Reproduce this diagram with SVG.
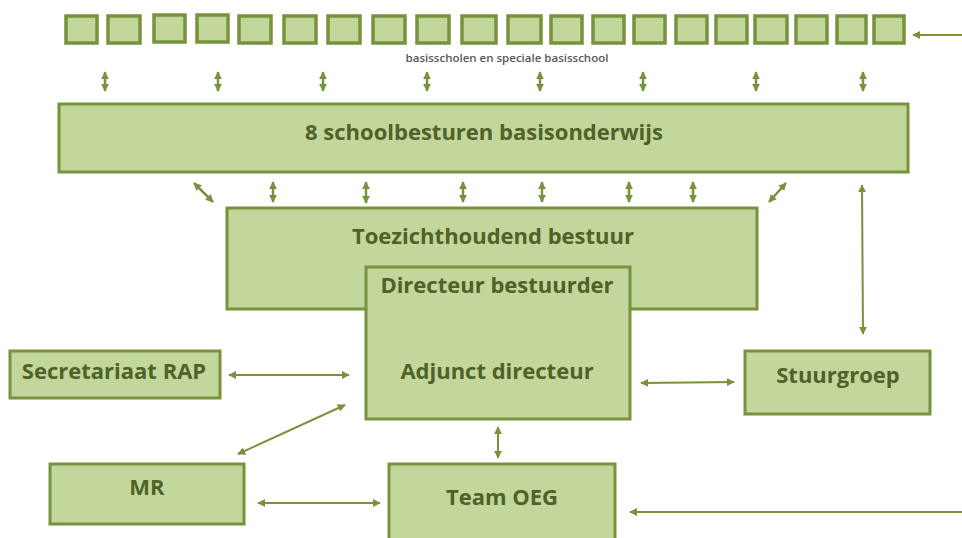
<svg xmlns="http://www.w3.org/2000/svg" width="962" height="538" viewBox="0 0 962 538">
<defs>
<style>
.box{fill:#c3d69b;stroke:#77933c;stroke-width:3}
.sq{fill:#c3d69b;stroke:#77933c;stroke-width:3.5}
.t{font-family:"Open Sans","Liberation Sans",sans-serif;font-weight:bold;font-size:22px;fill:#4f6228;text-anchor:middle}
.small{font-family:"Open Sans","Liberation Sans",sans-serif;font-size:11.5px;font-weight:600;fill:#595959;text-anchor:middle}
.c{stroke:#77933c;stroke-width:2;fill:none}
.s{stroke:#77933c;stroke-width:2.5;fill:none}
</style>
<marker id="ah" viewBox="0 0 10 10" refX="9" refY="5" markerWidth="8" markerHeight="8" markerUnits="userSpaceOnUse" orient="auto-start-reverse">
<path d="M0,0 L10,5 L0,10 Z" fill="#77933c"/>
</marker>
<marker id="ahs" viewBox="0 0 10 10" refX="9" refY="5" markerWidth="8" markerHeight="8" markerUnits="userSpaceOnUse" orient="auto-start-reverse">
<path d="M0,0 L10,5 L0,10 Z" fill="#77933c"/>
</marker>
</defs>
<rect width="962" height="538" fill="#ffffff"/>

<g id="basisscholen">
<rect class="sq" x="66" y="16" width="31" height="27"/>
<rect class="sq" x="108" y="16" width="32" height="27"/>
<rect class="sq" x="154" y="15" width="31" height="27"/>
<rect class="sq" x="197" y="15" width="31" height="27"/>
<rect class="sq" x="239" y="16" width="32" height="27"/>
<rect class="sq" x="284" y="16" width="32" height="27"/>
<rect class="sq" x="328" y="16" width="32" height="27"/>
<rect class="sq" x="373" y="16" width="32" height="27"/>
<rect class="sq" x="417" y="16" width="32" height="27"/>
<rect class="sq" x="462" y="16" width="34" height="27"/>
<rect class="sq" x="508" y="16" width="33" height="27"/>
<rect class="sq" x="551" y="16" width="31" height="27"/>
<rect class="sq" x="593" y="16" width="31" height="27"/>
<rect class="sq" x="634" y="16" width="31" height="27"/>
<rect class="sq" x="676" y="16" width="31" height="27"/>
<rect class="sq" x="716" y="16" width="31" height="27"/>
<rect class="sq" x="755" y="16" width="32" height="27"/>
<rect class="sq" x="796" y="16" width="31" height="27"/>
<rect class="sq" x="837" y="16" width="29" height="27"/>
<rect class="sq" x="874" y="16" width="30" height="27"/>
<text class="small" x="507" y="62">basisscholen en speciale basisschool</text>
</g>

<g id="schoolbesturen">
<rect class="box" x="59" y="104" width="849" height="68"/>
<text class="t" x="484" y="140">8 schoolbesturen basisonderwijs</text>
</g>

<g id="toezichthoudend">
<rect class="box" x="227" y="208" width="530" height="101"/>
<text class="t" x="493" y="244">Toezichthoudend bestuur</text>
</g>

<g id="directeur">
<rect class="box" x="366" y="267" width="264" height="152"/>
<text class="t" x="497" y="293">Directeur bestuurder</text>
<text class="t" x="497" y="379">Adjunct directeur</text>
</g>

<g id="secretariaat">
<rect class="box" x="10" y="351" width="210" height="47"/>
<text class="t" x="114" y="379">Secretariaat RAP</text>
</g>

<g id="stuurgroep">
<rect class="box" x="745" y="351" width="185" height="63"/>
<text class="t" x="838" y="383">Stuurgroep</text>
</g>

<g id="mr">
<rect class="box" x="50" y="464" width="194" height="60"/>
<text class="t" x="147" y="495">MR</text>
</g>

<g id="team">
<rect class="box" x="389" y="464" width="226" height="80"/>
<text class="t" x="502" y="505">Team OEG</text>
</g>

<g id="connectors">
<line class="c" x1="962" y1="35" x2="913" y2="35" marker-end="url(#ah)"/>
<g class="s">
<line x1="105" y1="72" x2="105" y2="91" marker-start="url(#ahs)" marker-end="url(#ahs)"/>
<line x1="218" y1="72" x2="218" y2="91" marker-start="url(#ahs)" marker-end="url(#ahs)"/>
<line x1="323" y1="72" x2="323" y2="91" marker-start="url(#ahs)" marker-end="url(#ahs)"/>
<line x1="427" y1="72" x2="427" y2="91" marker-start="url(#ahs)" marker-end="url(#ahs)"/>
<line x1="540" y1="72" x2="540" y2="91" marker-start="url(#ahs)" marker-end="url(#ahs)"/>
<line x1="643" y1="72" x2="643" y2="91" marker-start="url(#ahs)" marker-end="url(#ahs)"/>
<line x1="756" y1="72" x2="756" y2="91" marker-start="url(#ahs)" marker-end="url(#ahs)"/>
<line x1="863" y1="72" x2="863" y2="91" marker-start="url(#ahs)" marker-end="url(#ahs)"/>
<line x1="194" y1="183" x2="213" y2="202" marker-start="url(#ahs)" marker-end="url(#ahs)"/>
<line x1="273" y1="182" x2="273" y2="202" marker-start="url(#ahs)" marker-end="url(#ahs)"/>
<line x1="366" y1="182" x2="366" y2="203" marker-start="url(#ahs)" marker-end="url(#ahs)"/>
<line x1="463" y1="182" x2="463" y2="202" marker-start="url(#ahs)" marker-end="url(#ahs)"/>
<line x1="542" y1="182" x2="542" y2="202" marker-start="url(#ahs)" marker-end="url(#ahs)"/>
<line x1="629" y1="182" x2="629" y2="202" marker-start="url(#ahs)" marker-end="url(#ahs)"/>
<line x1="693" y1="182" x2="693" y2="202" marker-start="url(#ahs)" marker-end="url(#ahs)"/>
<line x1="786" y1="183" x2="769" y2="202" marker-start="url(#ahs)" marker-end="url(#ahs)"/>
</g>
<line class="c" x1="862" y1="185" x2="863" y2="334" marker-start="url(#ah)" marker-end="url(#ah)"/>
<line class="c" x1="229" y1="375" x2="349" y2="375" marker-start="url(#ah)" marker-end="url(#ah)"/>
<line class="c" x1="345" y1="405" x2="238" y2="454" marker-start="url(#ah)" marker-end="url(#ah)"/>
<line class="c" x1="641" y1="383" x2="734" y2="382" marker-start="url(#ah)" marker-end="url(#ah)"/>
<line class="c" x1="498" y1="427" x2="498" y2="458" marker-start="url(#ah)" marker-end="url(#ah)"/>
<line class="c" x1="258" y1="503" x2="380" y2="503" marker-start="url(#ah)" marker-end="url(#ah)"/>
<line class="c" x1="962" y1="512" x2="630" y2="512" marker-end="url(#ah)"/>
</g>
</svg>
